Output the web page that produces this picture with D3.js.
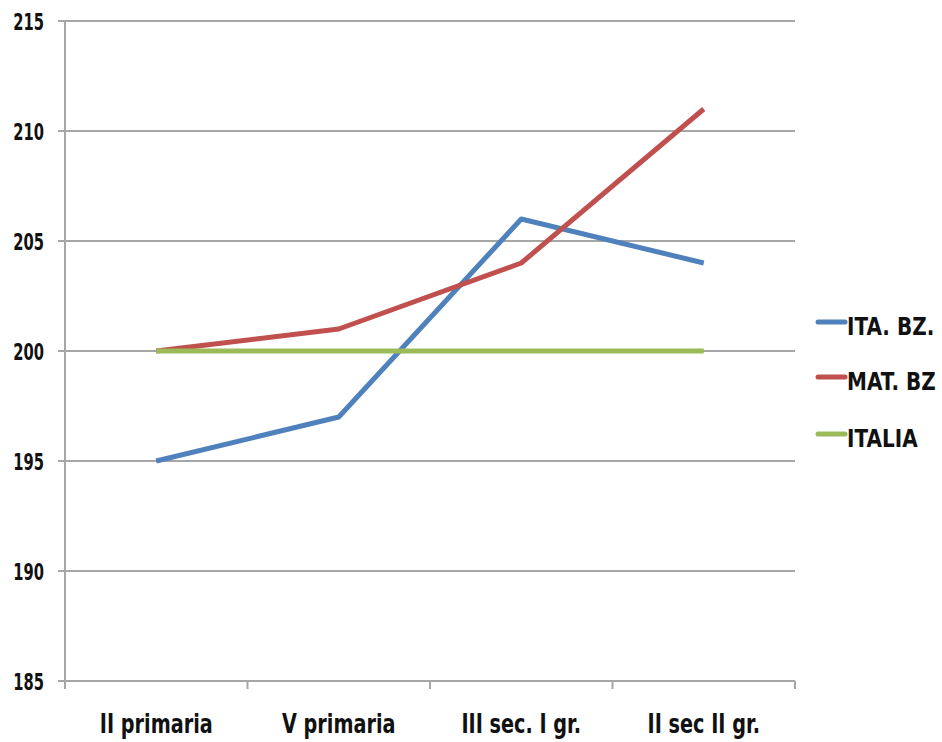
<!DOCTYPE html>
<html><head><meta charset="utf-8">
<script src="https://cdn.jsdelivr.net/npm/d3@7"></script>
<style>
body{margin:0;background:#fff;}
text{font-family:"DejaVu Sans",sans-serif;font-weight:bold;fill:#111;}
</style></head><body>
<svg id="c" width="942" height="742"></svg>
<script>
const categories = ["II primaria","V primaria","III sec. I gr.","II sec II gr."];
const itaBz = [195,197,206,204];
const matBz = [200,201,204,211];
const italia = [200,200,200,200];
const seriesNames = ["ITA. BZ.","MAT. BZ","ITALIA"];
const seriesColors = ["#4f81bd","#c0504d","#9bbb59"];
const yTicks = [185,190,195,200,205,210,215];

const series = [itaBz, matBz, italia];
const svg = d3.select("#c");
const L=65,R=795,T=21,B=681;
const x = d3.scaleBand().domain(categories).range([L,R]);
const y = d3.scaleLinear().domain([185,215]).range([B,T]);

// gridlines
svg.append("g").selectAll("line").data(yTicks).join("line")
 .attr("x1",L-7).attr("x2",R).attr("y1",d=>y(d)).attr("y2",d=>y(d))
 .attr("stroke","#a6a6a6").attr("stroke-width",2);
// y axis line
svg.append("line").attr("x1",L).attr("x2",L).attr("y1",T).attr("y2",B)
 .attr("stroke","#a6a6a6").attr("stroke-width",2);
// x ticks
const xb = categories.map(c=>x(c)).concat([R]);
svg.append("g").selectAll("line").data(xb).join("line")
 .attr("x1",d=>d).attr("x2",d=>d).attr("y1",B).attr("y2",B+8)
 .attr("stroke","#a6a6a6").attr("stroke-width",2);
// y labels
svg.append("g").selectAll("text").data(yTicks).join("text")
 .attr("transform",d=>`translate(44,${y(d)+9}) scale(0.64,1)`)
 .attr("text-anchor","end").attr("font-size",23).text(d=>d);
// x labels
svg.append("g").selectAll("text").data(categories).join("text")
 .attr("transform",d=>`translate(${x(d)+x.bandwidth()/2},733) scale(0.74,1)`)
 .attr("text-anchor","middle").attr("font-size",26).text(d=>d);
// lines
const line = d3.line().x((d,i)=>x(categories[i])+x.bandwidth()/2).y(d=>y(d));
series.forEach((s,k)=>{
  svg.append("path").datum(s).attr("d",line).attr("fill","none")
   .attr("stroke",seriesColors[k]).attr("stroke-width",5).attr("stroke-linejoin","round");
});
// legend
const ly=[322,377,434];
seriesNames.forEach((n,k)=>{
  svg.append("line").attr("x1",818).attr("x2",845).attr("y1",ly[k]).attr("y2",ly[k])
   .attr("stroke",seriesColors[k]).attr("stroke-width",5).attr("stroke-linecap","round");
  svg.append("text").attr("transform",`translate(847,${ly[k]+13}) scale(0.8,1)`)
   .attr("font-size",25).text(n);
});
</script></body></html>
